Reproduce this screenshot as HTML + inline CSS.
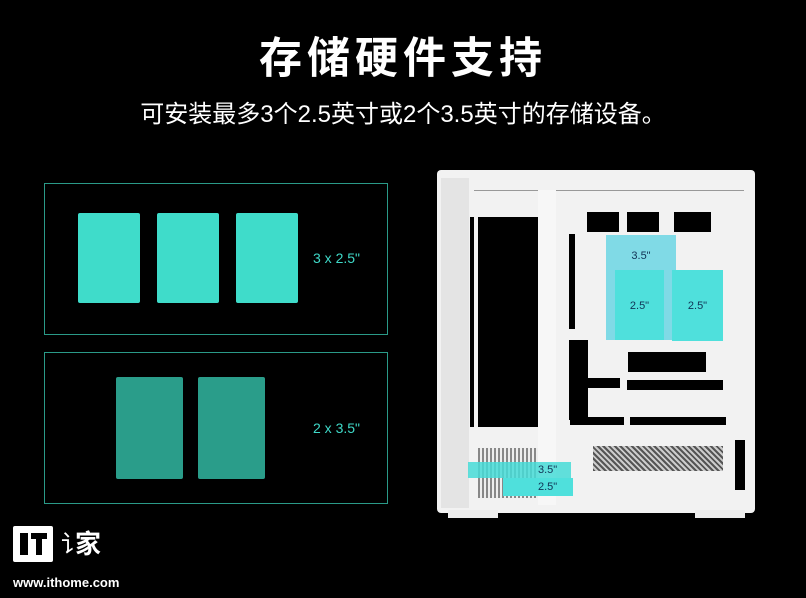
<!DOCTYPE html><html><head><meta charset="utf-8"><style>
body{margin:0;width:806px;height:598px;background:#000;overflow:hidden;position:relative;font-family:"Liberation Sans","Noto Sans CJK SC",sans-serif;color:#fff}
.a{position:absolute}
.b{position:absolute;background:#000}
.w{position:absolute;background:#ececec}
</style></head><body>
<div class="a" style="left:0;width:806px;top:24px;text-align:center;font-size:43px;font-weight:bold;letter-spacing:5px">存储硬件支持</div>
<div class="a" style="left:0;width:806px;top:94px;text-align:center;font-size:24px">可安装最多3个2.5英寸或2个3.5英寸的存储设备。</div>

<div class="a" style="left:44px;top:183px;width:342px;height:150px;border:1.5px solid #2a9a88"></div>
<div class="a" style="left:78px;top:213px;width:62px;height:90px;background:#3fdcca;border-radius:2px"></div>
<div class="a" style="left:157px;top:213px;width:62px;height:90px;background:#3fdcca;border-radius:2px"></div>
<div class="a" style="left:236px;top:213px;width:62px;height:90px;background:#3fdcca;border-radius:2px"></div>
<div class="a" style="left:313px;top:250px;font-size:14px;color:#3fd9c8">3 x 2.5"</div>

<div class="a" style="left:44px;top:352px;width:342px;height:150px;border:1.5px solid #2a9a88"></div>
<div class="a" style="left:116px;top:377px;width:67px;height:102px;background:#2a9d8a;border-radius:2px"></div>
<div class="a" style="left:198px;top:377px;width:67px;height:102px;background:#2a9d8a;border-radius:2px"></div>
<div class="a" style="left:313px;top:420px;font-size:14px;color:#3fd9c8">2 x 3.5"</div>

<!-- case -->
<div class="w" style="left:437px;top:170px;width:318px;height:343px;background:#f2f2f2;border-radius:4px"></div>
<div class="w" style="left:448px;top:510px;width:50px;height:8px"></div>
<div class="w" style="left:695px;top:510px;width:50px;height:8px"></div>
<div class="a" style="left:474px;top:190px;width:270px;height:1px;background:#999"></div>
<div class="a" style="left:441px;top:178px;width:28px;height:330px;background:#e4e4e4"></div>
<div class="b" style="left:470px;top:217px;width:4px;height:210px"></div>
<div class="b" style="left:478px;top:217px;width:60px;height:210px"></div>
<div class="w" style="left:538px;top:190px;width:18px;height:315px;background:#f7f7f7"></div>
<div class="b" style="left:587px;top:212px;width:32px;height:20px"></div>
<div class="b" style="left:627px;top:212px;width:32px;height:20px"></div>
<div class="b" style="left:674px;top:212px;width:37px;height:20px"></div>
<div class="b" style="left:569px;top:234px;width:6px;height:95px"></div>
<div class="b" style="left:569px;top:340px;width:6px;height:80px"></div>
<div class="b" style="left:570px;top:340px;width:18px;height:85px;"></div>
<div class="b" style="left:588px;top:378px;width:32px;height:10px"></div>
<div class="b" style="left:628px;top:352px;width:78px;height:20px"></div>
<div class="b" style="left:627px;top:380px;width:96px;height:10px"></div>
<div class="b" style="left:630px;top:417px;width:96px;height:8px"></div>
<div class="b" style="left:584px;top:417px;width:40px;height:8px"></div>
<div class="a" style="left:593px;top:446px;width:130px;height:25px;background:repeating-linear-gradient(45deg,#555 0 2px,#ccc 2px 4px)"></div>
<div class="a" style="left:478px;top:448px;width:60px;height:50px;background:repeating-linear-gradient(90deg,#888 0 2px,#eee 2px 4px)"></div>
<div class="b" style="left:735px;top:440px;width:10px;height:50px"></div>

<div class="a" style="left:606px;top:235px;width:70px;height:105px;background:rgba(90,210,225,.75)"></div>
<div class="a" style="left:606px;top:250px;width:70px;text-align:center;font-size:11px;color:#135">3.5"</div>
<div class="a" style="left:615px;top:270px;width:49px;height:70px;background:#4fe0dc"></div>
<div class="a" style="left:615px;top:300px;width:49px;text-align:center;font-size:11px;color:#135">2.5"</div>
<div class="a" style="left:672px;top:270px;width:51px;height:71px;background:#4fe0dc"></div>
<div class="a" style="left:672px;top:300px;width:51px;text-align:center;font-size:11px;color:#135">2.5"</div>
<div class="a" style="left:468px;top:462px;width:103px;height:16px;background:rgba(70,220,215,.85)"></div>
<div class="a" style="left:538px;top:464px;font-size:11px;color:#135">3.5"</div>
<div class="a" style="left:503px;top:478px;width:70px;height:18px;background:#4fe0dc"></div>
<div class="a" style="left:538px;top:481px;font-size:11px;color:#135">2.5"</div>

<!-- logo -->
<div class="a" style="left:13px;top:526px;width:40px;height:36px;background:#fff;border-radius:2px"></div>
<div class="a" style="left:20px;top:533px;width:8px;height:22px;background:#000"></div>
<div class="a" style="left:31px;top:533px;width:16px;height:6px;background:#000"></div>
<div class="a" style="left:36px;top:533px;width:6px;height:22px;background:#000"></div>
<div class="a" style="left:75px;top:524px;font-size:26px;font-weight:bold">家</div>
<div class="a" style="left:61px;top:524px;font-size:24px">讠</div>
<div class="a" style="left:13px;top:575px;font-size:13px;font-weight:bold">www.ithome.com</div>
</body></html>
